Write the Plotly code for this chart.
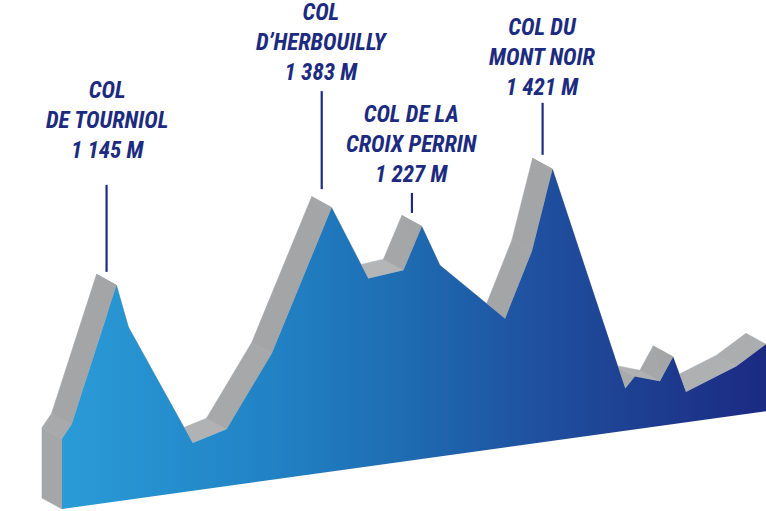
import plotly.graph_objects as go

# profil de l'étape : distance (km) et altitude (m)
dist_km = [0.0, 2.2, 12.4, 15.1, 29.7, 37.4, 47.7, 61.3, 69.6, 77.6, 81.8, 85.9,
           100.7, 106.8, 111.5, 128.0, 130.2, 135.9, 138.9, 141.8, 153.3, 160.0]
alt_m = [420, 485, 1145, 930, 308, 353, 700, 1383, 1005, 1022, 1227, 1022,
         711, 1028, 1421, 280, 334, 292, 404, 221, 314, 403]

# les cols
col_names = ["COL<br>DE TOURNIOL", "COL<br>D’HERBOUILLY",
             "COL DE LA<br>CROIX PERRIN", "COL DU<br>MONT NOIR"]
col_km = [12.4, 61.3, 81.8, 111.5]
col_alt = [1145, 1383, 1227, 1421]

# mise en page / perspective
W, H = 766, 511
PX_KM = 4.4          # px par km
PX_M = 0.201         # px par m
LEFT_PX = 62         # bord gauche du profil
BOTTOM_PX = 509      # bas du profil (gauche)
BASE_ALT = 70        # altitude de la ligne de base
TILT = 3.04          # montée de la ligne de base (m par km)
DEPTH_KM = -20 / PX_KM
DEPTH_M = 11 / PX_M

GREY_STEEP = (164, 165, 167)
GREY_FLAT = (182, 183, 185)
NAVY = "#1c2b80"
FONT = "Roboto Condensed, Roboto, sans-serif"

# lignes de rappel : longueur, écart au sommet, position du texte (px)
line_len = [87, 98, 20, 52]
line_gap = [8, 13, 8, 9]
text_off = [64, 49, 48, 45]


def screen_y(alt, d):
    return alt + TILT * d


front_x = list(dist_km)
front_y = [screen_y(a, d) for a, d in zip(alt_m, dist_km)]
back_x = [x + DEPTH_KM for x in front_x]
back_y = [y + DEPTH_M for y in front_y]

fig = go.Figure()


def grey_for(dx, dy):
    # dx en km, dy en m -> pente en pixels
    px = abs(dx * PX_KM)
    py = abs(dy * PX_M)
    t = min(1.0, py / (px + py + 1e-9) * 1.4)
    c = [round(f + (s - f) * t) for s, f in zip(GREY_STEEP, GREY_FLAT)]
    return "rgb(%d,%d,%d)" % tuple(c)


# face gauche
x_end = dist_km[-1]
lx = [front_x[0], front_x[0], back_x[0], back_x[0], front_x[0]]
ly = [BASE_ALT, front_y[0], back_y[0], BASE_ALT + DEPTH_M, BASE_ALT]
fig.add_trace(go.Scatter(x=lx, y=ly, mode="lines", fill="toself",
                         fillcolor="rgb(165,166,168)",
                         line=dict(width=0.6, color="rgb(165,166,168)"),
                         hoverinfo="skip", showlegend=False))

# dessus (ruban gris)
for i in range(len(front_x) - 1):
    qx = [front_x[i], front_x[i + 1], back_x[i + 1], back_x[i], front_x[i]]
    qy = [front_y[i], front_y[i + 1], back_y[i + 1], back_y[i], front_y[i]]
    g = grey_for(front_x[i + 1] - front_x[i], alt_m[i + 1] - alt_m[i])
    fig.add_trace(go.Scatter(x=qx, y=qy, mode="lines", fill="toself",
                             fillcolor=g, line=dict(width=0.6, color=g),
                             hoverinfo="skip", showlegend=False))

# face avant en dégradé
fx = front_x + [x_end, front_x[0], front_x[0]]
fy = front_y + [screen_y(BASE_ALT, x_end), BASE_ALT, front_y[0]]
fig.add_trace(go.Scatter(
    x=fx, y=fy, mode="lines", fill="toself", line=dict(width=0),
    fillgradient=dict(type="horizontal", colorscale=[
        [0.0, "#2a9bd7"], [0.3, "#2182c4"], [0.5, "#1e6ab0"],
        [0.7, "#1f4d9d"], [1.0, "#1b2a82"]]),
    hoverinfo="skip", showlegend=False))

# cols : traits et textes
for name, d, a, ll, lg, to in zip(col_names, col_km, col_alt, line_len, line_gap, text_off):
    mx = d + DEPTH_KM / 2
    my = screen_y(a, d) + DEPTH_M / 2
    y0 = my + lg / PX_M
    y1 = y0 + ll / PX_M
    fig.add_trace(go.Scatter(x=[mx, mx], y=[y0, y1], mode="lines",
                             line=dict(color=NAVY, width=2.2),
                             hoverinfo="skip", showlegend=False))
    label = name + "<br>" + f"{a:,}".replace(",", " ") + " M"
    fig.add_annotation(x=mx, y=y1, text=label, showarrow=False,
                       xanchor="center", yanchor="middle", yshift=to,
                       align="center",
                       font=dict(family=FONT, size=23, color=NAVY,
                                 weight="bold", style="italic"))

fig.update_xaxes(visible=False, fixedrange=True,
                 range=[-LEFT_PX / PX_KM, (W - LEFT_PX) / PX_KM])
fig.update_yaxes(visible=False, fixedrange=True,
                 range=[BASE_ALT - (H - BOTTOM_PX) / PX_M, BASE_ALT + BOTTOM_PX / PX_M])
fig.update_layout(width=W, height=H, margin=dict(l=0, r=0, t=0, b=0),
                  paper_bgcolor="white", plot_bgcolor="white",
                  showlegend=False)

fig.write_html("out.html", config={"displayModeBar": False},
               post_script="document.body.style.margin='0';")
